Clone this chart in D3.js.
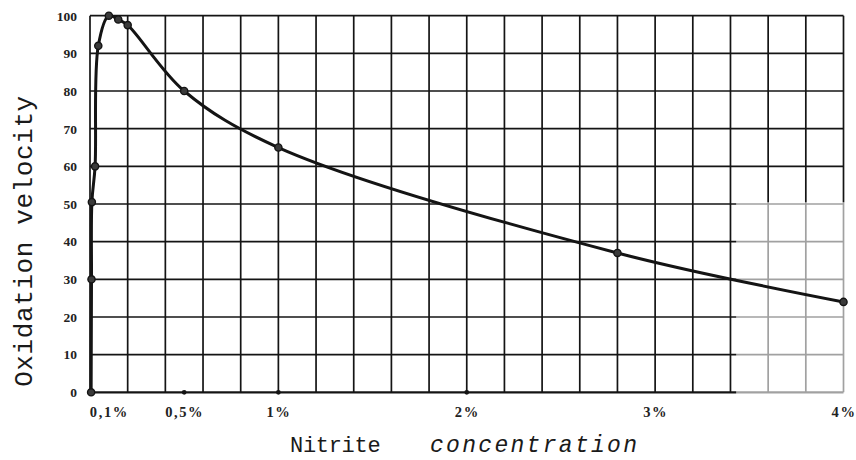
<!DOCTYPE html>
<html>
<head>
<meta charset="utf-8">
<script src="https://cdn.jsdelivr.net/npm/d3@7"></script>
<style>
  html, body { margin: 0; padding: 0; background: #fff; }
  svg { display: block; }
</style>
</head>
<body>
<svg id="chart" width="856" height="460"></svg>
<script>
// ---- data ----
const concentration = [0.006, 0.008, 0.01, 0.027, 0.044, 0.1, 0.15, 0.2, 0.5, 1.0, 2.8, 4.0]; // % nitrite
const velocity      = [0, 30, 50.5, 60, 92, 100, 99, 97.5, 80, 65, 37, 24];
const xTickValues = [0.1, 0.5, 1, 2, 3, 4];
const xTickLabels = ["0,1%", "0,5%", "1%", "2%", "3%", "4%"];
const yTickValues = [0, 10, 20, 30, 40, 50, 60, 70, 80, 90, 100];
const axisDots = [0.5, 1, 2];
const xTitle1 = "Nitrite";
const xTitle2 = "concentration";
const yTitle = "Oxidation velocity";

(function () {
const svg = d3.select("#chart");
const mLeft = 90, mRight = 843.5, mTop = 15.7, mBottom = 392.3;

const x = d3.scaleLinear().domain([0, 4]).range([mLeft, mRight]);
const y = d3.scaleLinear().domain([0, 100]).range([mBottom, mTop]);

const ink = "#141414";

// grid
const g = svg.append("g");
g.selectAll("line.v").data(d3.range(0, 21).map(i => i * 0.2))
  .join("line").attr("class", "v")
  .attr("x1", d => x(d)).attr("x2", d => x(d))
  .attr("y1", y(100)).attr("y2", y(0))
  .attr("stroke", ink).attr("stroke-width", 1.7);
g.selectAll("line.h").data(yTickValues)
  .join("line").attr("class", "h")
  .attr("x1", x(0)).attr("x2", x(4))
  .attr("y1", d => y(d)).attr("y2", d => y(d))
  .attr("stroke", ink).attr("stroke-width", d => d === 0 ? 2.2 : 1.7);

// faded scan area in the lower right
svg.append("rect")
  .attr("x", x(3.43)).attr("y", y(50.5))
  .attr("width", x(4) - x(3.43) + 3).attr("height", y(0) - y(50.5) + 3)
  .attr("fill", "#fff").attr("opacity", 0.6);

// y axis
const yAxis = svg.append("g")
  .attr("transform", `translate(${mLeft},0)`)
  .call(d3.axisLeft(y).tickValues(yTickValues).tickSize(0).tickPadding(13));
yAxis.select(".domain").remove();
yAxis.selectAll("text")
  .attr("font-family", "Liberation Serif, serif")
  .attr("font-size", 13.5).attr("font-weight", "bold").attr("fill", "#222");

// x axis
const xAxis = svg.append("g")
  .attr("transform", `translate(0,${mBottom})`)
  .call(d3.axisBottom(x).tickValues(xTickValues).tickSize(0).tickPadding(14)
        .tickFormat((d, i) => xTickLabels[i]));
xAxis.select(".domain").remove();
xAxis.selectAll("text")
  .attr("font-family", "Liberation Serif, serif")
  .attr("font-size", 14.5).attr("font-weight", "bold").attr("fill", "#222")
  .attr("letter-spacing", 1.6);

// small dots on the x axis
svg.selectAll("circle.ad").data(axisDots).join("circle").attr("class", "ad")
  .attr("cx", d => x(d)).attr("cy", y(0)).attr("r", 2.4).attr("fill", ink);

// curve
const pts = concentration.map((c, i) => [c, velocity[i]]);
const line = d3.line().x(d => x(d[0])).y(d => y(d[1])).curve(d3.curveCatmullRom.alpha(0.5));
svg.append("path").datum(pts)
  .attr("d", line).attr("fill", "none")
  .attr("stroke", ink).attr("stroke-width", 3).attr("stroke-linejoin", "round");

svg.selectAll("circle.pt").data(pts).join("circle").attr("class", "pt")
  .attr("cx", d => x(d[0])).attr("cy", d => y(d[1]))
  .attr("r", 3.6).attr("fill", "#3a3a3a").attr("stroke", ink).attr("stroke-width", 1.4);

// titles
svg.append("text")
  .attr("transform", `translate(32,${(95 + 387) / 2}) rotate(-90)`)
  .attr("text-anchor", "middle")
  .attr("font-family", "Liberation Mono, monospace")
  .attr("font-size", 26).attr("letter-spacing", 0.6).attr("fill", "#1a1a1a")
  .text(yTitle);

const xt = svg.append("text")
  .attr("x", 290).attr("y", 452)
  .attr("font-family", "Liberation Mono, monospace")
  .attr("fill", "#1a1a1a");
xt.append("tspan").attr("font-size", 22).attr("letter-spacing", -0.3).text(xTitle1);
xt.append("tspan").attr("x", 430).attr("font-size", 23).attr("font-style", "italic")
  .attr("letter-spacing", 2.3).text(xTitle2);
})();
</script>
</body>
</html>
